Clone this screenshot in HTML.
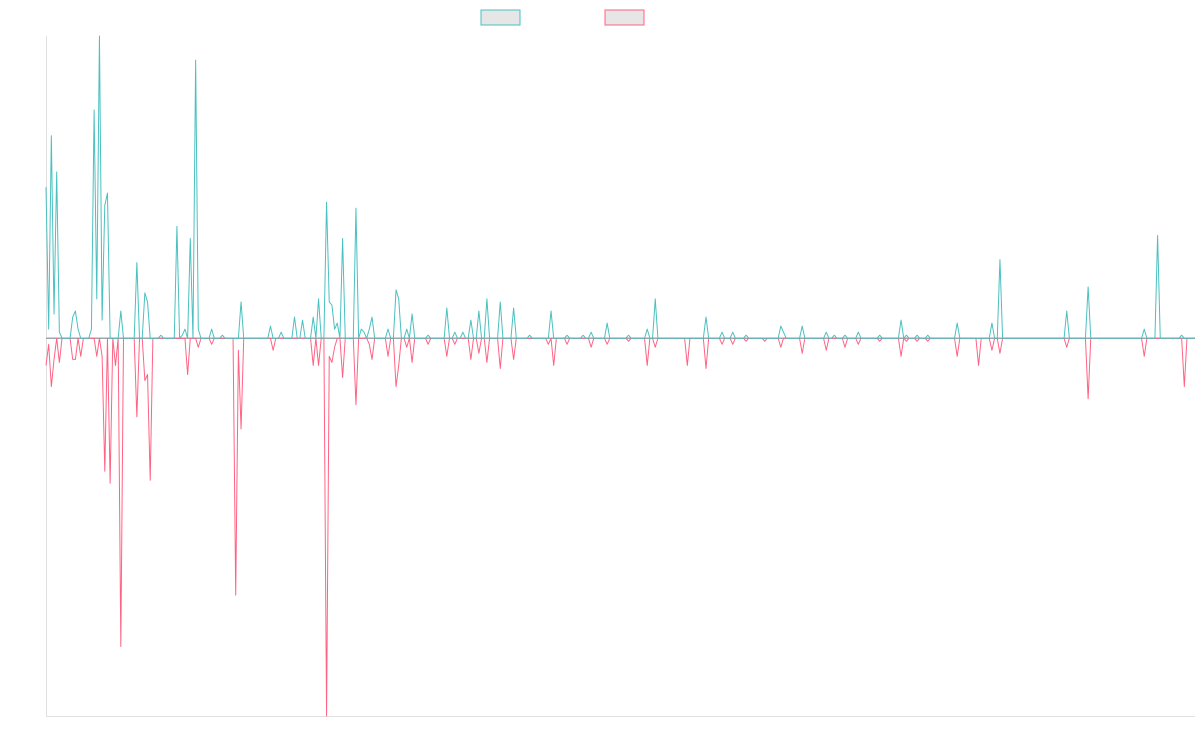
<!DOCTYPE html>
<html><head><meta charset="utf-8"><style>
html,body{margin:0;padding:0;background:#fff;width:1200px;height:750px;overflow:hidden;font-family:"Liberation Sans",sans-serif}
</style></head><body>
<svg id="chart" width="1200" height="750" xmlns="http://www.w3.org/2000/svg">
<rect x="481" y="10" width="39" height="15" fill="#e6e6e6" stroke="#4bc0c0" stroke-width="1"/>
<rect x="605" y="10" width="39" height="15" fill="#e6e6e6" stroke="#ff6384" stroke-width="1"/>
<line x1="46.5" y1="36" x2="46.5" y2="716" stroke="#e0e0e0"/>
<line x1="46" y1="716.5" x2="1195" y2="716.5" stroke="#e0e0e0"/>
<g id="plot"></g>
</svg>
<script>
const pointCount = 431;
const greenIdx = [0,1,2,3,4,5,10,11,12,17,18,19,20,21,22,23,28,34,37,38,43,49,51,52,54,56,57,62,66,73,84,88,93,96,100,102,105,106,107,108,109,111,116,118,119,121,122,128,131,132,135,137,143,150,153,156,159,162,165,170,175,181,189,195,201,204,210,218,225,228,247,253,257,262,275,276,283,292,295,299,304,312,320,322,326,330,341,354,357,382,390,411,416,425];
const greenVal = [0.50,0.03,0.67,0.08,0.55,0.02,0.07,0.09,0.03,0.03,0.755,0.13,1.0,0.06,0.44,0.48,0.09,0.25,0.15,0.12,0.01,0.37,0.01,0.03,0.33,0.92,0.03,0.03,0.01,0.12,0.04,0.02,0.07,0.06,0.07,0.13,0.45,0.12,0.11,0.03,0.05,0.33,0.43,0.03,0.02,0.03,0.07,0.03,0.16,0.13,0.03,0.08,0.01,0.10,0.02,0.02,0.06,0.09,0.13,0.12,0.10,0.01,0.09,0.01,0.01,0.02,0.05,0.01,0.03,0.13,0.07,0.02,0.02,0.01,0.04,0.02,0.04,0.02,0.01,0.01,0.02,0.01,0.06,0.01,0.01,0.01,0.05,0.05,0.26,0.09,0.17,0.03,0.34,0.01];
const redIdx = [0,1,2,3,5,10,11,13,19,21,22,24,26,28,34,37,38,39,53,57,62,71,72,73,85,100,102,105,106,107,108,111,116,121,122,128,131,132,135,137,143,150,153,159,162,165,170,175,188,190,195,204,210,218,225,228,240,247,253,257,262,269,275,283,292,299,304,312,320,322,326,330,341,349,354,357,382,390,411,426];
const redVal = [-0.09,-0.02,-0.16,-0.07,-0.08,-0.07,-0.07,-0.06,-0.06,-0.06,-0.44,-0.48,-0.09,-1.02,-0.26,-0.14,-0.12,-0.47,-0.12,-0.03,-0.02,-0.85,-0.04,-0.30,-0.04,-0.09,-0.09,-1.25,-0.06,-0.08,-0.03,-0.13,-0.22,-0.02,-0.07,-0.06,-0.16,-0.09,-0.03,-0.08,-0.02,-0.06,-0.02,-0.07,-0.05,-0.08,-0.10,-0.07,-0.02,-0.09,-0.02,-0.03,-0.02,-0.01,-0.09,-0.03,-0.09,-0.10,-0.02,-0.02,-0.01,-0.01,-0.03,-0.05,-0.04,-0.03,-0.02,-0.01,-0.06,-0.01,-0.01,-0.01,-0.06,-0.09,-0.04,-0.05,-0.03,-0.20,-0.06,-0.16];
const yMax = 1.0, yMin = -1.25;
const X0=46, X1=1195, Y0=36, Y1=716;
function xScale(i){return X0+(X1-X0)*i/(pointCount-1);}
function yScale(v){return Y0+(yMax-v)/(yMax-yMin)*(Y1-Y0);}
function build(idx,val){const a=new Array(pointCount).fill(0);idx.forEach((k,j)=>{a[k]=val[j];});return a;}
const plot=document.getElementById('plot');
const NS='http://www.w3.org/2000/svg';
const zero=document.createElementNS(NS,'line');
zero.setAttribute('x1',X0);zero.setAttribute('x2',X1);zero.setAttribute('y1',yScale(0));zero.setAttribute('y2',yScale(0));
zero.setAttribute('stroke','#9aa8ad');zero.setAttribute('stroke-width','1.5');


plot.appendChild(zero);
function drawLine(arr,color,name){
  const p=document.createElementNS(NS,'polyline');
  p.setAttribute('points',arr.map((v,i)=>xScale(i).toFixed(2)+','+yScale(v).toFixed(2)).join(' '));
  p.setAttribute('fill','none');p.setAttribute('stroke',color);p.setAttribute('stroke-width','1');
  p.setAttribute('stroke-linejoin','round');
  
  
  plot.appendChild(p);
}
drawLine(build(redIdx,redVal),'#ff6384','series-2-line');
drawLine(build(greenIdx,greenVal),'#4bc0c0','series-1-line');
</script>
</body></html>
